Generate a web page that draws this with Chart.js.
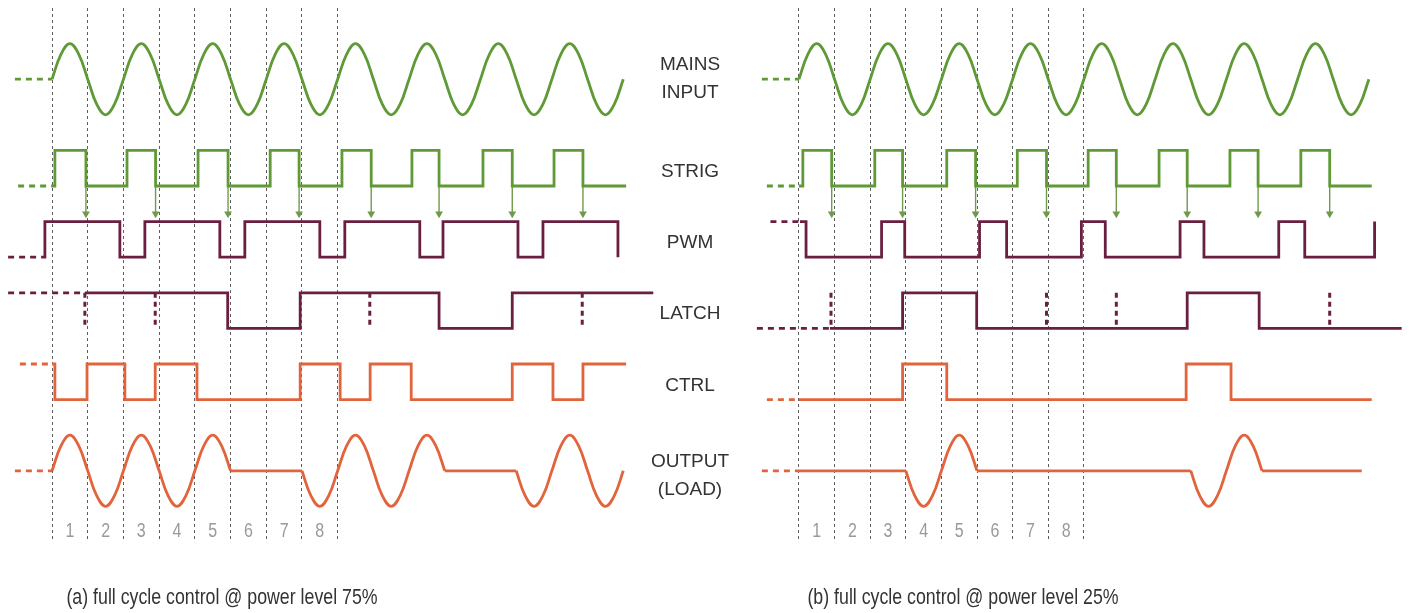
<!DOCTYPE html>
<html>
<head>
<meta charset="utf-8">
<script src="https://cdn.jsdelivr.net/npm/chart.js@4.4.0/dist/chart.umd.min.js"></script>
<style>
  html, body { margin: 0; padding: 0; background: #fff; }
  #wrap { position: relative; width: 1409px; height: 613px; overflow: hidden; background: #fff; }
  canvas { position: absolute; top: 0; }
  #chartA { left: 0; }
  #chartB { left: 745px; }
</style>
</head>
<body>
<div id="wrap">
  <canvas id="chartA" width="745" height="613"></canvas>
  <canvas id="chartB" width="664" height="613"></canvas>
</div>
<script>
// time is counted in mains half-cycles, the numbered cells are the first eight
const cellLabels = ['1', '2', '3', '4', '5', '6', '7', '8'];
const cellCenters = [0.5, 1.5, 2.5, 3.5, 4.5, 5.5, 6.5, 7.5];
const laneNames = [['MAINS', 'INPUT'], ['STRIG'], ['PWM'], ['LATCH'], ['CTRL'], ['OUTPUT', '(LOAD)']];
const captions = ['(a) full cycle control @ power level 75%', '(b) full cycle control @ power level 25%'];

// mains / output read every quarter of a half-cycle (one mains cycle per row)
const sampleTimes = [
  0, 0.25, 0.5, 0.75, 1, 1.25, 1.5, 1.75,
  2, 2.25, 2.5, 2.75, 3, 3.25, 3.5, 3.75,
  4, 4.25, 4.5, 4.75, 5, 5.25, 5.5, 5.75,
  6, 6.25, 6.5, 6.75, 7, 7.25, 7.5, 7.75,
  8, 8.25, 8.5, 8.75, 9, 9.25, 9.5, 9.75,
  10, 10.25, 10.5, 10.75, 11, 11.25, 11.5, 11.75,
  12, 12.25, 12.5, 12.75, 13, 13.25, 13.5, 13.75,
  14, 14.25, 14.5, 14.75, 15, 15.25, 15.5, 15.75,
  16];
const mainsLevels = [
  0, 0.7, 1, 0.7, 0, -0.7, -1, -0.7,
  0, 0.7, 1, 0.7, 0, -0.7, -1, -0.7,
  0, 0.7, 1, 0.7, 0, -0.7, -1, -0.7,
  0, 0.7, 1, 0.7, 0, -0.7, -1, -0.7,
  0, 0.7, 1, 0.7, 0, -0.7, -1, -0.7,
  0, 0.7, 1, 0.7, 0, -0.7, -1, -0.7,
  0, 0.7, 1, 0.7, 0, -0.7, -1, -0.7,
  0, 0.7, 1, 0.7, 0, -0.7, -1, -0.7,
  0];
const mainsLeadIn = [-1.04, 0];
const outputLevelsA = [
  0, 0.7, 1, 0.7, 0, -0.7, -1, -0.7,
  0, 0.7, 1, 0.7, 0, -0.7, -1, -0.7,
  0, 0.7, 1, 0.7, 0, null, null, null,
  null, null, null, null, 0, -0.7, -1, -0.7,
  0, 0.7, 1, 0.7, 0, -0.7, -1, -0.7,
  0, 0.7, 1, 0.7, 0, null, null, null,
  null, null, null, null, 0, -0.7, -1, -0.7,
  0, 0.7, 1, 0.7, 0, -0.7, -1, -0.7,
  0];
const outputLevelsB = [
  null, null, null, null, null, null, null, null,
  null, null, null, null, 0, -0.7, -1, -0.7,
  0, 0.7, 1, 0.7, 0, null, null, null,
  null, null, null, null, null, null, null, null,
  null, null, null, null, null, null, null, null,
  null, null, null, null, 0, -0.7, -1, -0.7,
  0, 0.7, 1, 0.7, 0, null, null, null,
  null, null, null, null, null, null, null, null,
  null];
const outputIdleFromA = [-1.04, 5, 11];
const outputIdleToA = [0, 7, 13];
const outputIdleFromB = [-1.04, 0, 5, 13];
const outputIdleToB = [0, 3, 11, 15.8];

// digital signals: time of each edge and the level after it
const strigTimesA = [-0.95, 0, 0.08, 0.95, 2.1, 2.9, 4.09, 4.93, 6.11, 6.92, 8.12, 8.94, 10.08, 10.84, 12.07, 12.89, 14.06, 14.87, 16.08];
const strigLevelsA = [0, 0, 1, 0, 1, 0, 1, 0, 1, 0, 1, 0, 1, 0, 1, 0, 1, 0, 0];
const strigTimesB = [-0.9, 0, 0.11, 0.92, 2.13, 2.91, 4.15, 4.96, 6.13, 6.95, 8.12, 8.91, 10.11, 10.9, 12.1, 12.89, 14.09, 14.9, 16.08];
const strigLevelsB = [0, 0, 1, 0, 1, 0, 1, 0, 1, 0, 1, 0, 1, 0, 1, 0, 1, 0, 0];

const pwmTimesA = [-1.23, -0.28, -0.2, 1.9, 2.6, 4.7, 5.4, 7.5, 8.2, 10.3, 10.95, 13.05, 13.75, 15.85];
const pwmLevelsA = [0, 0, 1, 0, 1, 0, 1, 0, 1, 0, 1, 0, 1, 0];
const pwmTimesB = [-0.8, 0.03, 0.2, 2.32, 2.97, 5.07, 5.83, 7.93, 8.6, 10.7, 11.37, 13.47, 14.2, 16.16];
const pwmLevelsB = [1, 1, 0, 1, 0, 1, 0, 1, 0, 1, 0, 1, 0, 1];

const latchTimesA = [-1.23, 0.92, 4.92, 6.95, 10.84, 12.89, 16.84];
const latchLevelsA = [1, 1, 0, 1, 0, 1, 1];
const latchTimesB = [-1.18, 0.87, 2.91, 4.99, 10.9, 12.92, 16.92];
const latchLevelsB = [0, 0, 1, 0, 1, 0, 0];
const latchTicksA = [0.92, 2.89, 8.9, 14.85];
const latchTicksB = [0.9, 6.95, 8.91, 14.9];

const ctrlTimesA = [-0.9, 0, 0.08, 0.98, 2.04, 2.89, 4.06, 6.95, 8.07, 8.91, 10.06, 12.89, 14.03, 14.87, 16.08];
const ctrlLevelsA = [1, 1, 0, 1, 0, 1, 0, 1, 0, 1, 0, 1, 0, 1, 1];
const ctrlTimesB = [-0.9, 0, 2.91, 4.15, 10.87, 12.13, 16.08];
const ctrlLevelsB = [0, 0, 1, 0, 1, 0, 0];

const arrowTimesA = [0.95, 2.9, 4.93, 6.92, 8.94, 10.84, 12.89, 14.87];
const arrowTimesB = [0.92, 2.91, 4.96, 6.95, 8.91, 10.9, 12.89, 14.9];

// lane baselines (y units), label heights
const LANE = { output: 0, ctrl: 2, latch: 4, pwm: 6, strig: 8, mains: 11 };
const labelLevels = [11, 8.4, 6.4, 4.4, 2.4, -0.15];

const GREEN = '#5f9a37';
const MAROON = '#6b1f40';
const ORANGE = '#e2643d';
const leadDash = ctx => ctx.p0DataIndex === 0 ? [6, 5] : undefined;

function stepSet(times, levels, base, color) {
  return {
    data: times.map((t, i) => ({ x: t, y: base + levels[i] })),
    borderColor: color, borderWidth: 2.8, stepped: 'before', pointRadius: 0,
    segment: { borderDash: leadDash }
  };
}

function waveSet(levels, base, color) {
  return {
    data: sampleTimes.map((t, i) => ({ x: t, y: levels[i] === null ? null : base + levels[i] })),
    borderColor: color, borderWidth: 2.8, tension: 0.4, pointRadius: 0
  };
}

function flatSet(from, to, base, color) {
  const pts = [];
  from.forEach((f, i) => {
    pts.push({ x: f, y: base }, { x: to[i], y: base }, { x: to[i], y: null });
  });
  return {
    data: pts, borderColor: color, borderWidth: 2.8, pointRadius: 0,
    segment: { borderDash: leadDash }
  };
}

function tickSet(times) {
  const pts = [];
  times.forEach(t => pts.push({ x: t, y: LANE.latch + 1 }, { x: t, y: LANE.latch }, { x: t, y: null }));
  return { data: pts, borderColor: MAROON, borderWidth: 3, borderDash: [5, 4], pointRadius: 0 };
}

function arrowSets(times) {
  const pts = [];
  times.forEach(t => pts.push({ x: t, y: LANE.strig }, { x: t, y: LANE.pwm + 1.22 }, { x: t, y: null }));
  return [
    { data: pts, borderColor: '#6f9a4c', borderWidth: 1.4, pointRadius: 0 },
    {
      data: times.map(t => ({ x: t, y: LANE.pwm + 1.22 })), showLine: false,
      pointStyle: 'triangle', pointRadius: 4.5, pointRotation: 180,
      pointBackgroundColor: '#6f9a4c', pointBorderColor: '#6f9a4c', pointBorderWidth: 0
    }
  ];
}

function squeezedText(ctx, text, cx, cy, sx) {
  ctx.save();
  ctx.translate(cx, cy);
  ctx.scale(sx, 1);
  ctx.fillText(text, 0, 0);
  ctx.restore();
}

const textPlugin = {
  id: 'diagramText',
  afterDraw(chart, args, opts) {
    const { ctx } = chart;
    const x = chart.scales.x, y = chart.scales.y;
    ctx.save();
    ctx.textAlign = 'center';
    ctx.textBaseline = 'middle';
    ctx.fillStyle = '#9a9a9a';
    ctx.font = '20px "Liberation Sans", Arial, sans-serif';
    cellCenters.forEach((c, i) => squeezedText(ctx, cellLabels[i], x.getPixelForValue(c), y.getPixelForValue(-1.7), 0.8));
    ctx.fillStyle = '#333';
    ctx.font = '22px "Liberation Sans", Arial, sans-serif';
    squeezedText(ctx, opts.caption, opts.captionX, 598, 0.807);
    if (opts.labels) {
      ctx.font = '19px "Liberation Sans", Arial, sans-serif';
      laneNames.forEach((lines, i) => {
        const cy = y.getPixelForValue(labelLevels[i]);
        lines.forEach((ln, k) => ctx.fillText(ln, opts.labelX, cy + (k - (lines.length - 1) / 2) * 28));
      });
    }
    ctx.restore();
  }
};

function panel(id, p) {
  const datasets = [
    { data: mainsLeadIn.map(t => ({ x: t, y: LANE.mains })), borderColor: GREEN, borderWidth: 2.8, borderDash: [6, 5], pointRadius: 0 },
    waveSet(mainsLevels, LANE.mains, GREEN),
    stepSet(p.strigT, p.strigL, LANE.strig, GREEN),
    ...arrowSets(p.arrows),
    stepSet(p.pwmT, p.pwmL, LANE.pwm, MAROON),
    stepSet(p.latchT, p.latchL, LANE.latch, MAROON),
    tickSet(p.ticks),
    stepSet(p.ctrlT, p.ctrlL, LANE.ctrl, ORANGE),
    waveSet(p.outL, LANE.output, ORANGE),
    flatSet(p.idleFrom, p.idleTo, LANE.output, ORANGE)
  ];
  return new Chart(id, {
    type: 'line',
    data: { datasets },
    options: {
      responsive: false, animation: false, devicePixelRatio: 1, events: [],
      layout: { padding: p.padding },
      plugins: {
        legend: { display: false }, tooltip: { enabled: false },
        diagramText: { caption: p.caption, captionX: p.captionX, labels: p.labels, labelX: 690 }
      },
      scales: {
        x: {
          type: 'linear', min: -1.25, max: 17,
          afterBuildTicks: s => { s.ticks = cellCenters.map(v => ({ value: v })); },
          ticks: { display: false },
          grid: { offset: true, color: '#5e5e5e', lineWidth: 1, drawTicks: false },
          border: { display: false, dash: [3, 3] }
        },
        y: { type: 'linear', min: -2, max: 13, display: false }
      }
    },
    plugins: [textPlugin]
  });
}

panel('chartA', {
  strigT: strigTimesA, strigL: strigLevelsA, arrows: arrowTimesA,
  pwmT: pwmTimesA, pwmL: pwmLevelsA, latchT: latchTimesA, latchL: latchLevelsA, ticks: latchTicksA,
  ctrlT: ctrlTimesA, ctrlL: ctrlLevelsA, outL: outputLevelsA, idleFrom: outputIdleFromA, idleTo: outputIdleToA,
  padding: { left: 7.4, right: 86, top: 8, bottom: 71 },
  caption: captions[0], captionX: 222, labels: true
});

panel('chartB', {
  strigT: strigTimesB, strigL: strigLevelsB, arrows: arrowTimesB,
  pwmT: pwmTimesB, pwmL: pwmLevelsB, latchT: latchTimesB, latchL: latchLevelsB, ticks: latchTicksB,
  ctrlT: ctrlTimesB, ctrlL: ctrlLevelsB, outL: outputLevelsB, idleFrom: outputIdleFromB, idleTo: outputIdleToB,
  padding: { left: 9.4, right: 3, top: 8, bottom: 71 },
  caption: captions[1], captionX: 218, labels: false
});
</script>
</body>
</html>
